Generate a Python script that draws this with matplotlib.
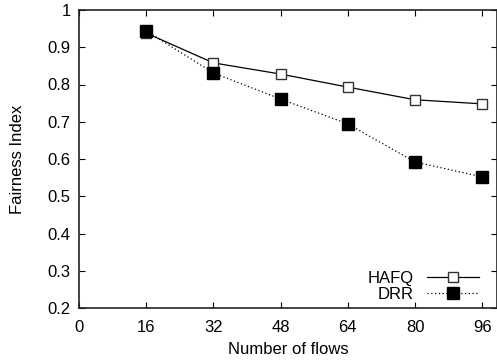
import matplotlib
matplotlib.use("Agg")
import matplotlib.pyplot as plt

flows = [16, 32, 48, 64, 80, 96]
hafq = [0.938, 0.858, 0.828, 0.793, 0.759, 0.748]
drr = [0.944, 0.831, 0.761, 0.694, 0.592, 0.552]

xticks = [0, 16, 32, 48, 64, 80, 96]
yticks = [0.2, 0.3, 0.4, 0.5, 0.6, 0.7, 0.8, 0.9, 1.0]
yticklabels = ["0.2", "0.3", "0.4", "0.5", "0.6", "0.7", "0.8", "0.9", "1"]

plt.rcParams["font.family"] = ["Liberation Sans", "DejaVu Sans"]
plt.rcParams["font.size"] = 12

fig = plt.figure(figsize=(4.97, 3.64), dpi=100)
ax = fig.add_axes([79 / 497, 1 - 308 / 364, 418 / 497, 298 / 364])

ax.plot(flows, hafq, color="black", lw=0.9, marker="s", ms=7,
        mfc="white", mec="#333333", mew=1.0, label="HAFQ")
ax.plot(flows, drr, color="black", lw=0.9, ls=(0, (1, 2)), marker="s", ms=8.5,
        mfc="black", mec="black", label="DRR")

ax.set_xlim(0, 99.5)
ax.set_ylim(0.2, 1.0)
ax.set_xticks(xticks)
ax.set_yticks(yticks)
ax.set_yticklabels(yticklabels)
ax.tick_params(direction="in", length=4, width=0.8, top=True, right=True, pad=6)
ax.tick_params(axis="x", pad=9)

for where in ["top", "right", "bottom", "left"]:
    ax.spines[where].set_linewidth(1.2)
    ax.spines[where].set_color("#222222")

ax.set_xlabel("Number of flows", labelpad=5)
ax.set_ylabel("Fairness Index", labelpad=16)

leg = ax.legend(loc="lower right", bbox_to_anchor=(0.957, 0.02), frameon=False,
                markerfirst=False, handlelength=3.1, handletextpad=0.8,
                labelspacing=0.05, borderaxespad=0, borderpad=0, markerscale=1.0)

fig.savefig("out.png", dpi=100)
